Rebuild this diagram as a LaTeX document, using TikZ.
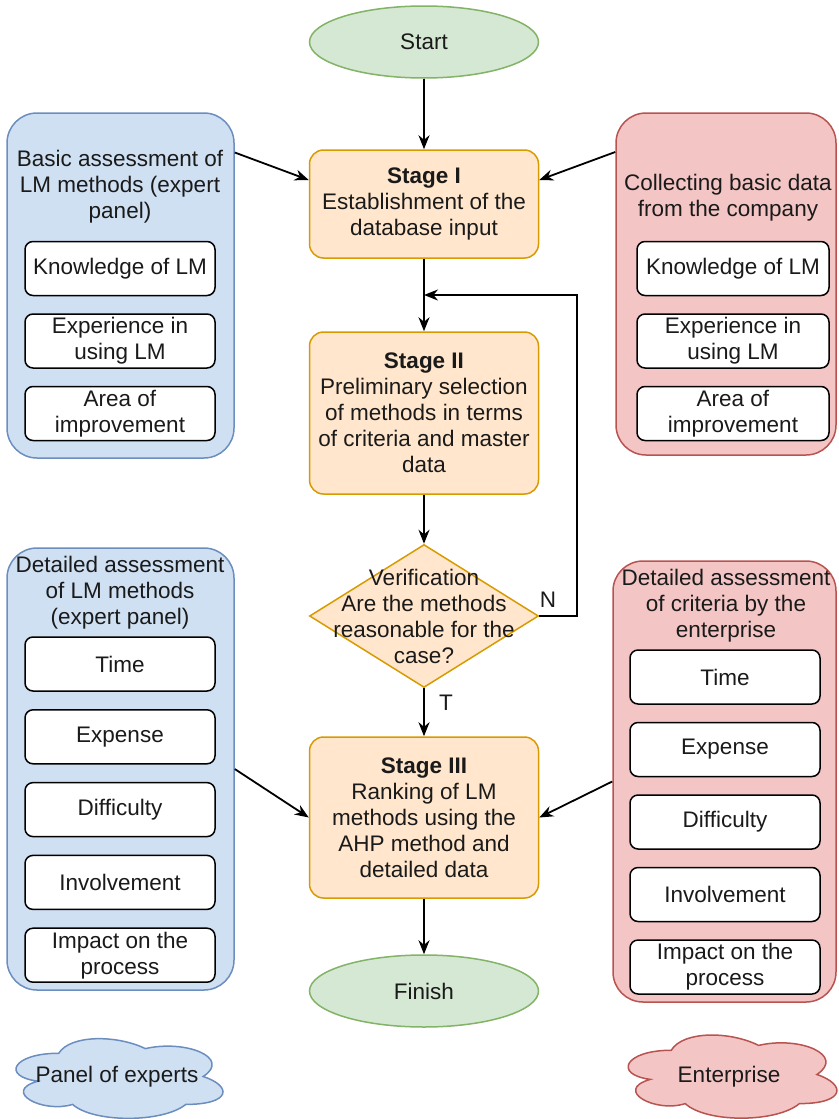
\documentclass[tikz,border=0pt]{standalone}
\usepackage{fontspec}
\setmainfont{Liberation Sans}
\usetikzlibrary{shapes.geometric,arrows.meta,positioning}

\definecolor{greenfill}{HTML}{D5E8D4}
\definecolor{greenline}{HTML}{82B366}
\definecolor{orangefill}{HTML}{FFE6CC}
\definecolor{orangeline}{HTML}{D79B00}
\definecolor{bluefill}{HTML}{CFE0F3}
\definecolor{blueline}{HTML}{6C8EBF}
\definecolor{redfill}{HTML}{F4C5C5}
\definecolor{redline}{HTML}{B85450}
\definecolor{inkcol}{HTML}{1A1A1A}

% cloud outline: x0, y0, width, height, fill, line
\newcommand{\cloudblob}[6]{%
  \begin{scope}[shift={(#1,#2)}, x=#3pt, y=-#4pt]
    \draw[line width=1.5pt, draw=#6, fill=#5] (0.25,0.25)
      .. controls (0.05,0.25) and (0,0.5) .. (0.16,0.55)
      .. controls (0,0.66) and (0.18,0.9) .. (0.31,0.8)
      .. controls (0.4,1) and (0.7,1) .. (0.8,0.8)
      .. controls (1,0.8) and (1,0.6) .. (0.875,0.5)
      .. controls (1,0.3) and (0.8,0.1) .. (0.625,0.2)
      .. controls (0.5,0.05) and (0.3,0.05) .. (0.25,0.25) -- cycle;
  \end{scope}}

\tikzset{
  every node/.style={font=\fontsize{22.5}{26}\selectfont, text=inkcol},
  terminal/.style={ellipse, draw=greenline, fill=greenfill, line width=1.5pt, minimum width=229pt, minimum height=72pt},
  stagebox/.style={draw=orangeline, fill=orangefill, line width=1.5pt, rounded corners=14pt, minimum width=229pt, align=center},
  bluepanel/.style={draw=blueline, fill=bluefill, line width=1.5pt, rounded corners=30pt},
  redpanel/.style={draw=redline, fill=redfill, line width=1.5pt, rounded corners=30pt},
  item/.style={draw=black, fill=white, line width=1.5pt, rounded corners=8pt, minimum width=190pt, minimum height=54pt, align=center, inner sep=0pt},
  arr/.style={line width=1.8pt, -{Stealth[length=14pt,width=11pt]}}
}

\begin{document}
\begin{tikzpicture}[x=1pt,y=-1pt]
\useasboundingbox (0,0) rectangle (838,1119);

% side panels
\node[bluepanel, minimum width=227pt, minimum height=345pt] (basicL) at (120.5,285.5) {};
\node[align=center] (basicT) at (120,186.5) {Basic assessment of\\LM methods (expert\\panel)};
\node[redpanel, minimum width=220pt, minimum height=342pt] (collectR) at (726,284) {};
\node[align=center] (collectT) at (728,198) {Collecting basic data\\from the company};
\node[bluepanel, minimum width=227pt, minimum height=442pt] (detailL) at (120.5,769) {};
\node[align=center] (detailLT) at (120,593) {Detailed assessment\\of LM methods\\(expert panel)};
\node[redpanel, minimum width=223pt, minimum height=441pt] (detailR) at (724.5,781.5) {};
\node[align=center] (detailRT) at (726,606) {Detailed assessment\\of criteria by the\\enterprise};

\foreach \txt [count=\i] in {Knowledge of LM, {Experience in\\using LM}, {Area of\\improvement}} {
  \node[item] (bl\i) at (120, 268.5+72.5*\i-72.5) {\txt};
  \node[item, minimum width=192pt] (br\i) at (733, 268.5+72.5*\i-72.5) {\txt};
}
\foreach \txt [count=\i] in {Time, Expense, Difficulty, Involvement, {Impact on the\\process}} {
  \node[item] (dl\i) at (120, 664+72.8*\i-72.8) {\txt};
  \node[item] (dr\i) at (725, 677+72.5*\i-72.5) {\txt};
}

% main flow
\node[terminal] (start) at (424,42) {Start};
\node[stagebox, minimum height=108pt] (stage1) at (424,204) {\textbf{Stage I}\\Establishment of the\\database input};
\node[stagebox, minimum height=162pt] (stage2) at (424,413) {\textbf{Stage II}\\Preliminary selection\\of methods in terms\\of criteria and master\\data};
\node[diamond, draw=orangeline, fill=orangefill, line width=1.5pt, minimum width=229pt, minimum height=143pt, inner sep=0pt,
  label={[align=center]center:Verification\\Are the methods\\reasonable for the\\case?}] (verif) at (424,616) {};
\node[stagebox, minimum height=161pt] (stage3) at (424,817.5) {\textbf{Stage III}\\Ranking of LM\\methods using the\\AHP method and\\detailed data};
\node[terminal] (finish) at (424,991) {Finish};

\node (nlab) at (548,600) {N};
\node (tlab) at (446,703) {T};

\coordinate (loopin) at (424,295);

\draw[arr] (start) -- (stage1);
\draw[arr] (stage1) -- (stage2);
\draw[arr] (stage2) -- (verif);
\draw[arr] (verif) -- (stage3);
\draw[arr] (stage3) -- (finish);
\draw[arr] (verif.east) -- ++(38,0) |- (loopin);

\draw[arr] ([yshift=133pt]basicL.east) -- ([yshift=24pt]stage1.west);
\draw[arr] ([yshift=132pt]collectR.west) -- ([yshift=24pt]stage1.east);
\draw[arr] (detailL.east) -- (stage3.west);
\draw[arr] (detailR.west) -- (stage3.east);

% legend clouds
\cloudblob{1}{1030}{231}{93}{bluefill}{blueline}
\node (expertsC) at (117,1077) {Panel of experts};
\cloudblob{613}{1026}{233}{97}{redfill}{redline}
\node (enterpriseC) at (729,1077) {Enterprise};

\end{tikzpicture}
\end{document}
